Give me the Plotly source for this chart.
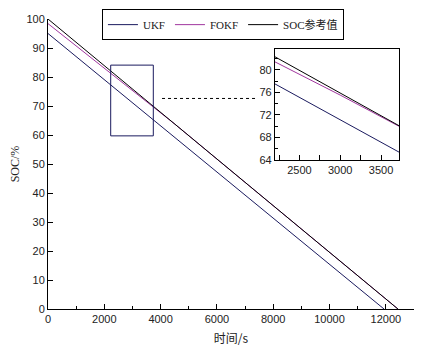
import plotly.graph_objects as go

# data
ukf_t = [0, 11935]
ukf_soc = [95.0, 0]
fokf_t = [0, 1000, 2200, 3000, 3720, 4500, 6000, 8000, 10000, 12000, 12430]
fokf_soc = [98.4, 90.75, 81.4, 75.5, 69.97, 63.8, 51.7, 35.6, 19.5, 3.45, 0]
ref_t = [0, 12430]
ref_soc = [100, 0]

x_ticks = [0, 2000, 4000, 6000, 8000, 10000, 12000]
y_ticks = [0, 10, 20, 30, 40, 50, 60, 70, 80, 90, 100]
inset_x_ticks = [2500, 3000, 3500]
inset_y_ticks = [64, 68, 72, 76, 80]

names = ["UKF", "FOKF", "SOC参考值"]
colors = ["#1a1a5e", "#a0369e", "#000000"]
series = [(ukf_t, ukf_soc), (fokf_t, fokf_soc), (ref_t, ref_soc)]

zoom_box = dict(x0=2227, x1=3740, y0=59.7, y1=84.1)

fig = go.Figure()
for (t, s), n, c in zip(series, names, colors):
    fig.add_trace(go.Scatter(x=t, y=s, mode="lines", name=n,
                             line=dict(color=c, width=1), xaxis="x", yaxis="y"))
for (t, s), n, c in zip(series, names, colors):
    fig.add_trace(go.Scatter(x=t, y=s, mode="lines", name=n, showlegend=False,
                             line=dict(color=c, width=1), xaxis="x2", yaxis="y2"))

tickfont = dict(family="Liberation Sans, Arial", size=11, color="#222")
fig.update_layout(
    width=414, height=350,
    margin=dict(l=40, r=8, t=11, b=49, autoexpand=False),
    paper_bgcolor="white", plot_bgcolor="white",
    showlegend=True,
    legend=dict(orientation="h", x=0.478, xanchor="center", y=1.034, yanchor="top",
                bordercolor="black", borderwidth=1, bgcolor="white",
                font=dict(family="Liberation Serif, Noto Sans CJK SC", size=11, color="#222"),
                itemwidth=30, tracegroupgap=0),
    xaxis=dict(range=[0, 13000], tickvals=x_ticks, ticktext=[str(v) for v in x_ticks],
               ticks="inside", ticklen=5, tickcolor="black", automargin=False,
               minor=dict(dtick=1000, ticks="inside", ticklen=3, tickcolor="black"),
               showline=True, linecolor="black", linewidth=1, showgrid=False, zeroline=False,
               tickfont=tickfont,
               title=dict(text="时间/s", font=dict(family="Noto Sans CJK SC", size=12, color="#222"),
                          standoff=10)),
    yaxis=dict(range=[0, 100], tickvals=y_ticks, ticktext=[str(v) for v in y_ticks],
               ticks="inside", ticklen=5, tickcolor="black", automargin=False,
               showline=True, linecolor="black", linewidth=1, showgrid=False, zeroline=False,
               tickfont=tickfont,
               title=dict(text="SOC/%", font=dict(family="Liberation Serif", size=12, color="#222"),
                          standoff=4)),
    xaxis2=dict(domain=[0.620, 0.959], anchor="y2", range=[2200, 3720],
                tickvals=inset_x_ticks, ticktext=[str(v) for v in inset_x_ticks],
                ticks="inside", ticklen=5, tickcolor="black",
                minor=dict(dtick=250, ticks="inside", ticklen=5, tickcolor="black"),
                showline=True, mirror=True, linecolor="black", linewidth=1,
                showgrid=False, zeroline=False, tickfont=tickfont),
    yaxis2=dict(domain=[0.514, 0.897], anchor="x2", range=[64, 83.7],
                tickvals=inset_y_ticks, ticktext=[str(v) for v in inset_y_ticks],
                ticks="inside", ticklen=5, tickcolor="black",
                minor=dict(dtick=2, ticks="inside", ticklen=3, tickcolor="black"),
                showline=True, mirror=True, linecolor="black", linewidth=1,
                showgrid=False, zeroline=False, tickfont=tickfont),
    shapes=[
        dict(type="rect", xref="x", yref="y", line=dict(color="#1a1a5e", width=1), **zoom_box),
        dict(type="line", xref="x", yref="y", x0=4050, x1=7425, y0=72.6, y1=72.6,
             line=dict(color="black", width=1, dash="dot")),
    ],
)

fig.write_html("out.html")
